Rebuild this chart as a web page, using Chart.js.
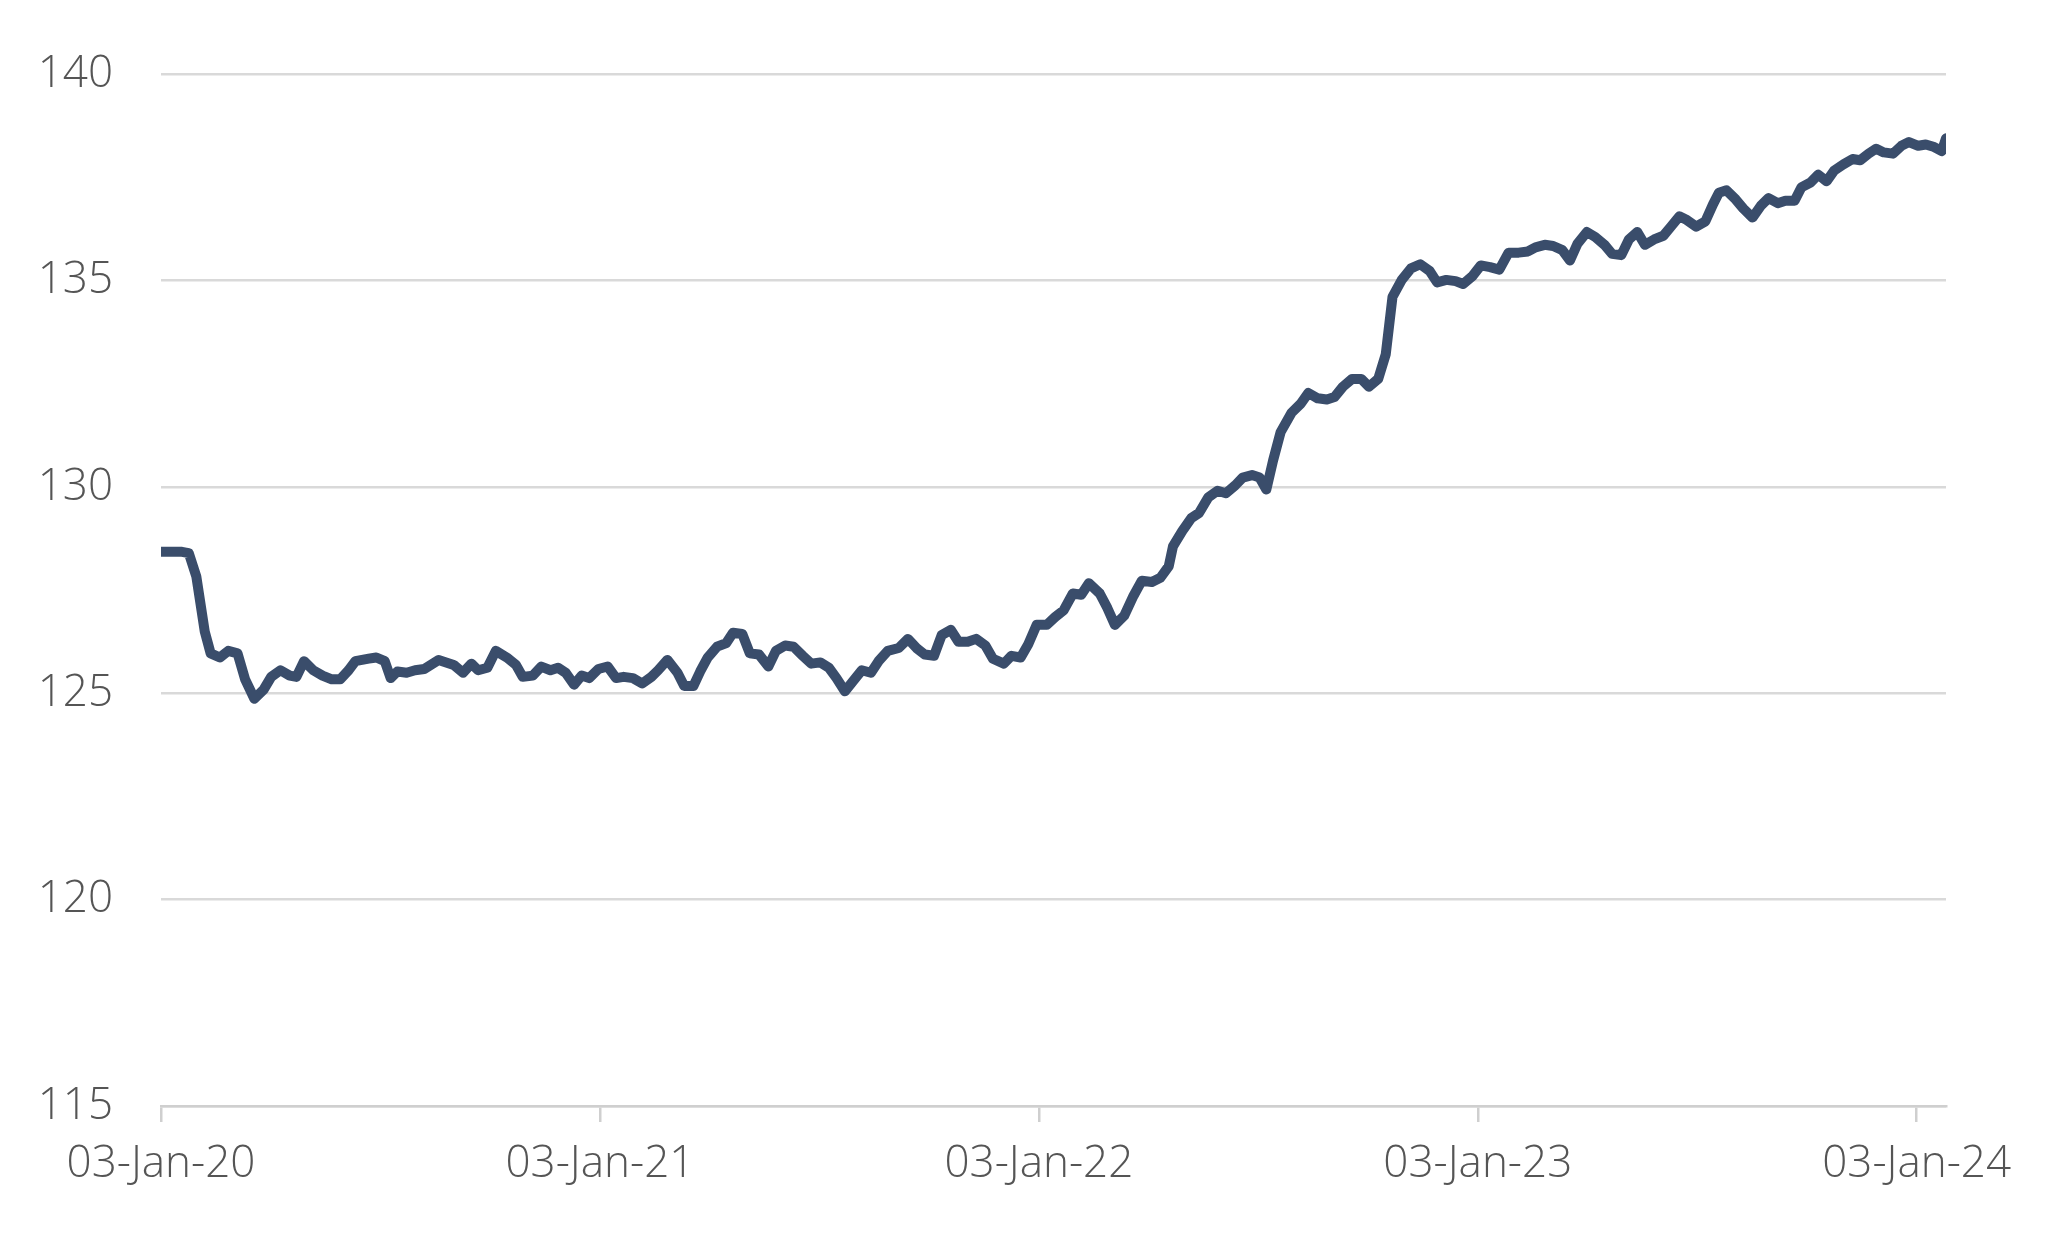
<!DOCTYPE html>
<html><head><meta charset="utf-8">
<script src="https://cdn.jsdelivr.net/npm/chart.js@4"></script>
<style>html,body{margin:0;padding:0;background:#fff}#w{width:2062px;height:1237px}</style>
</head><body><div id="w"><canvas id="c"></canvas></div>
<script>
const weeks = [0,2.5,3.3,4.2,5.2,5.9,7.0,8.0,9.1,10.0,
11.1,12.2,13.1,14.2,15.3,16.1,17.0,18.1,19.2,20.3,
21.3,22.3,23.1,24.7,25.6,26.6,27.3,28.1,29.2,30.2,
31.3,33.0,34.8,35.9,36.9,37.7,38.8,39.8,41.1,42.2,
43.0,44.2,45.2,46.3,47.2,48.1,49.1,50.0,50.9,52.0,
53.1,54.1,55.0,56.1,57.2,58.3,59.1,60.2,61.4,62.2,
63.3,64.1,65.0,66.1,67.2,68.0,69.1,70.0,71.1,72.2,
73.1,74.2,75.2,76.3,77.3,78.4,79.4,80.3,81.3,82.2,
83.3,84.4,85.3,86.4,87.7,88.8,89.8,90.8,91.9,92.8,
93.9,94.8,95.9,96.9,98.0,98.9,100.2,101.1,102.2,103.1,
104.1,105.3,106.3,107.3,108.4,109.4,110.3,111.6,112.5,113.4,
114.5,115.6,116.6,117.8,118.8,119.8,120.3,121.4,122.5,123.4,
124.5,125.6,126.6,127.7,128.6,129.7,130.6,131.4,132.2,133.1,
134.4,135.5,136.4,137.5,138.6,139.5,140.5,141.6,142.7,143.6,
144.7,145.6,146.4,147.5,148.6,149.7,150.8,151.7,152.8,153.9,
154.8,155.9,156.9,158.0,159.1,160.2,161.4,162.5,163.4,164.5,
165.5,166.6,167.5,168.4,169.5,170.5,171.6,172.5,173.6,174.5,
175.5,176.4,177.5,178.6,179.5,180.5,181.4,182.5,183.6,184.5,
185.2,186.1,187.2,188.1,189.2,190.2,191.1,192.2,193.1,194.2,
195.0,196.1,197.0,198.0,198.9,200.0,201.1,202.0,203.0,203.9,
204.8,205.9,206.9,207.8,208.9,209.8,210.8,211.7,212.2];
const values = [128.43,128.43,128.40,127.83,126.50,125.97,125.87,126.03,125.97,125.34,
124.87,125.09,125.40,125.56,125.43,125.40,125.78,125.56,125.43,125.34,
125.34,125.56,125.78,125.84,125.87,125.78,125.37,125.53,125.50,125.56,
125.59,125.81,125.69,125.50,125.72,125.56,125.62,126.03,125.87,125.69,
125.40,125.43,125.65,125.56,125.62,125.50,125.21,125.43,125.37,125.59,
125.65,125.37,125.40,125.37,125.24,125.40,125.56,125.81,125.50,125.18,
125.18,125.53,125.87,126.13,126.22,126.47,126.44,125.97,125.94,125.65,
126.03,126.16,126.13,125.91,125.72,125.75,125.62,125.37,125.05,125.28,
125.56,125.50,125.78,126.03,126.10,126.32,126.10,125.94,125.91,126.41,
126.54,126.25,126.25,126.32,126.16,125.84,125.72,125.91,125.87,126.19,
126.66,126.66,126.85,127.01,127.42,127.39,127.67,127.42,127.07,126.66,
126.88,127.36,127.73,127.70,127.80,128.08,128.56,128.93,129.25,129.37,
129.75,129.91,129.85,130.04,130.23,130.29,130.23,129.94,130.64,131.33,
131.80,132.02,132.28,132.15,132.12,132.18,132.43,132.62,132.62,132.43,
132.62,133.22,134.61,135.02,135.30,135.40,135.24,134.96,135.02,134.99,
134.92,135.11,135.37,135.33,135.27,135.68,135.68,135.71,135.81,135.87,
135.84,135.74,135.49,135.90,136.18,136.06,135.87,135.65,135.62,136.00,
136.18,135.87,136.00,136.09,136.31,136.56,136.47,136.31,136.44,136.85,
137.13,137.19,136.97,136.75,136.53,136.82,137.00,136.88,136.94,136.94,
137.26,137.38,137.57,137.41,137.67,137.82,137.95,137.92,138.08,138.20,
138.11,138.08,138.27,138.36,138.27,138.30,138.24,138.14,138.45];
const tickWeeks = [0,52.18,104.36,156.54,208.71];
const tickLabels = ['03-Jan-20','03-Jan-21','03-Jan-22','03-Jan-23','03-Jan-24'];
const yTicks = [115,120,125,130,135,140];

const font = {family:'"Open Sans", Lato, sans-serif', size:44, weight:'300'};
new Chart(document.getElementById('c'), {
  type:'line',
  data:{datasets:[{data:weeks.map((w,i)=>({x:w,y:values[i]})),borderColor:'#3a4d6b',borderWidth:10,pointRadius:0,tension:0,borderJoinStyle:'round',borderCapStyle:'round'}]},
  options:{
    responsive:true, maintainAspectRatio:false, animation:false,
    layout:{padding:{top:62,right:116,left:0,bottom:0}},
    plugins:{legend:{display:false},tooltip:{enabled:false}},
    scales:{
      x:{type:'linear',min:0,max:212.2,
        afterBuildTicks:a=>{a.ticks=tickWeeks.map(v=>({value:v}));},
        afterFit:a=>{a.height=131;},
        ticks:{autoSkip:false,maxRotation:0,color:'#555',font,padding:16,callback:(v,i)=>tickLabels[i]},
        grid:{drawOnChartArea:false,drawTicks:true,tickLength:16,color:'#cfcfcf',lineWidth:2.5},
        border:{color:'#cfcfcf',width:2.5}},
      y:{min:115,max:140,
        afterBuildTicks:a=>{a.ticks=yTicks.map(v=>({value:v}));},
        afterFit:a=>{a.width=161;},
        ticks:{color:'#555',font,padding:48,callback:v=>v},
        grid:{color:'#d9d9d9',lineWidth:2.5,drawTicks:false},
        border:{display:false}}
    }
  }
});
</script></body></html>
